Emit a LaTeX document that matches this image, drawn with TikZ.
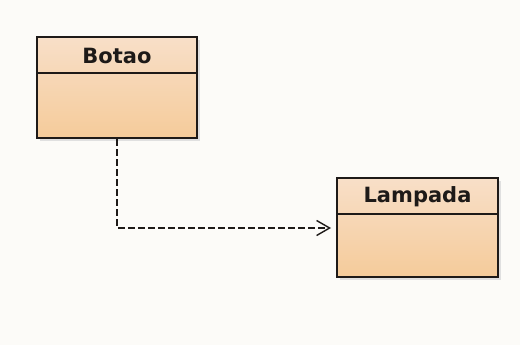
\documentclass[tikz,border=0pt]{standalone}
\usepackage{fontspec}
\setmainfont{DejaVu Sans}
\usetikzlibrary{arrows.meta}
\definecolor{bgcol}{HTML}{FCFBF8}
\definecolor{boxtop}{HTML}{F8DFC8}
\definecolor{boxbot}{HTML}{F5CB9A}
\definecolor{edgecol}{HTML}{1E1A18}
\tikzset{
  classbox/.style={draw=edgecol, line width=1.6pt, top color=boxtop, bottom color=boxbot},
  classname/.style={font=\fontsize{21}{21}\selectfont\bfseries, text=edgecol, inner sep=0pt},
  dependency/.style={draw=edgecol, line width=1.4pt, dash pattern=on 7pt off 3pt,
    -{Straight Barb[length=13pt, width=15pt, line width=1.4pt]}},
}
\begin{document}
\begin{tikzpicture}[x=1pt,y=-1pt]
  \fill[bgcol] (0,0) rectangle (520,345);
  \useasboundingbox (0,0) rectangle (520,345);
  % soft shadows
  \fill[black!12] (40,40) rectangle (200,141);
  \fill[black!12] (340,181) rectangle (501,280);
  % class Botao
  \path[classbox] (37,37) rectangle (197,138);
  \draw[edgecol, line width=1.6pt] (37,73) -- (197,73);
  \node[classname] (botao) at (117,56) {Botao};
  \coordinate (botaoS) at (117,139);
  % class Lampada
  \path[classbox] (337,178) rectangle (498,277);
  \draw[edgecol, line width=1.6pt] (337,214) -- (498,214);
  \node[classname] (lampada) at (417.5,197) {Lampada};
  \coordinate (lampadaW) at (331,228);
  % dependency from Botao to Lampada
  \draw[dependency] (botaoS) |- (lampadaW);
\end{tikzpicture}
\end{document}
